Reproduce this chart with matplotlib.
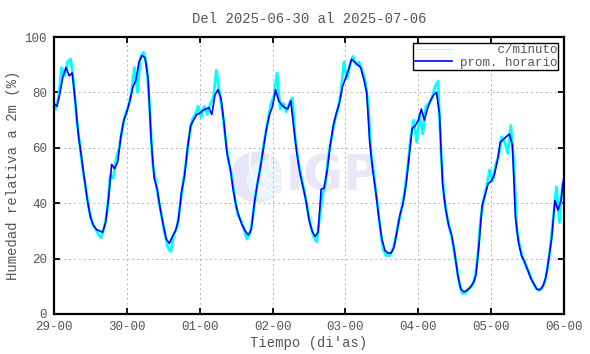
import matplotlib
matplotlib.use("Agg")
import matplotlib.pyplot as plt
import numpy as np
from matplotlib.patches import Circle, Arc

plt.rcParams['font.family'] = ['Liberation Mono', 'DejaVu Sans Mono']

# promedio horario (valor al inicio de cada hora), dia por dia
d29 = [76, 75, 80, 86, 89, 86, 87, 77, 65, 57, 49, 41, 35, 32, 30.5, 30,
       29.5, 33, 42, 54, 52.5, 55, 64, 70]
d30 = [73, 77, 82, 84.5, 91, 93.3, 92.5, 85, 63, 49, 45, 38, 32, 27, 25.5, 28,
       30, 34, 44, 50, 60, 68, 70, 72]
d01 = [72.5, 73.5, 74, 74.5, 72, 79, 81, 78, 69, 58, 53, 45, 39, 35, 32, 30,
       28.5, 30.5, 40, 47, 53, 60, 67, 72]
d02 = [75, 81, 77, 75.5, 74.5, 74, 77, 67, 58, 51, 46, 41, 34, 30, 28, 29.5,
       45, 45.5, 52, 61, 68, 72.5, 76, 82]
d03 = [85, 88, 92, 91, 90, 89, 85, 80, 62, 52, 44, 35, 27, 23, 22, 22,
       24, 30, 36, 40, 47, 57, 67, 68]
d04 = [70, 74, 70, 74, 77, 79, 80, 72, 47, 38, 32, 28.5, 22, 14, 9, 8,
       8.5, 9.5, 11, 14, 25, 39, 43, 47]
d05 = [48, 50, 55, 62, 63, 64, 65, 61, 35, 26, 21, 19, 16, 13, 11, 9,
       8.7, 10, 13, 20, 28, 41, 37.5, 41, 50]

# datos por minuto (resumidos a la media hora)
c29 = [74, 78, 89, 86, 91, 92, 83, 70, 61, 52, 45, 38, 33, 31, 29, 27.5,
       31, 37, 50, 49, 56, 60, 67, 72]
c30 = [75, 80, 89, 80, 93, 94.5, 90, 75, 54, 48, 41, 35, 29, 24, 22.5, 29,
       31, 39, 47, 55, 64, 70, 72, 75]
c01 = [71, 75, 72, 76, 78, 88, 80, 73, 63, 55, 50, 42, 36, 34, 31, 27,
       29, 35, 44, 50, 57, 64, 70, 76]
c02 = [79, 87, 74, 76, 73, 76, 78, 63, 55, 49, 44, 38, 32, 28, 26, 35,
       43, 48, 58, 64, 70, 74, 80, 91]
c03 = [85, 90, 93, 90, 91, 88, 84, 76, 57, 49, 40, 30, 23, 21, 21, 23,
       27, 33, 38, 44, 53, 64, 70, 62]
c04 = [72, 65, 75, 76, 78, 82, 84, 58, 42, 35, 30, 25, 18, 11, 7.5, 7.5,
       9, 10, 12, 20, 34, 41, 46, 52]
c05 = [48, 54, 57, 64, 62, 58, 68, 54, 30, 24, 20, 17, 15, 12, 10, 8.5,
       9, 11, 16, 24, 35, 46, 33, 47]

dias = ['29-00', '30-00', '01-00', '02-00', '03-00', '04-00', '05-00', '06-00']

horario = np.array(d29 + d30 + d01 + d02 + d03 + d04 + d05)
minuto = np.array(c29 + c30 + c01 + c02 + c03 + c04 + c05)
t_h = np.arange(len(horario))
t_m = np.arange(len(minuto)) + 0.5

fig = plt.figure(figsize=(5.9, 3.54), dpi=100)
fig.patch.set_facecolor('white')

# marca de agua IGP
wm = fig.add_axes([232 / 590, 1 - 202 / 354, 50 / 590, 50 / 354], zorder=0)
wm.set_xlim(-1, 1)
wm.set_ylim(-1, 1)
wm.axis('off')
wm.add_patch(Circle((0, 0), 1, color='#e6e6f6'))
wm.add_patch(Circle((0.35, -0.1), 0.75, color='#ebf3fd'))
for r in (0.5, 0.9, 1.3):
    wm.add_patch(Arc((1.0, 0.6), r * 2, r * 2, color='white', lw=1.2))
fig.text(286 / 590, 1 - 176 / 354, 'IGP', fontsize=35, fontweight='bold',
         color='#e7e7f6', family='DejaVu Sans', va='center', zorder=0.5)

ax = fig.add_axes([54 / 590, 40 / 354, 510 / 590, 277 / 354], zorder=1)
ax.patch.set_alpha(0)

ax.plot(t_m, minuto, color='#00ffff', lw=2.0, label='     c/minuto')
ax.plot(t_h, horario, color='#0000ff', lw=1.2, label='prom. horario')

ax.set_xlim(0, 168)
ax.set_ylim(0, 100)
ax.set_xticks(np.arange(0, 169, 24))
ax.set_xticklabels(dias)
ax.set_yticks(np.arange(0, 101, 20))

txt = '#555555'
ax.tick_params(direction='in', length=4, width=1.3, top=True, right=True,
               labelsize=9, labelcolor=txt, pad=5)
for s in ax.spines.values():
    s.set_linewidth(1.6)
ax.grid(True, color='#b4b4b4', lw=0.7, ls=(0, (2, 3)))

ax.set_title('Del 2025-06-30 al 2025-07-06', fontsize=10, color=txt, pad=10)
ax.set_xlabel("Tiempo (di'as)", fontsize=10, color=txt, labelpad=2)
ax.set_ylabel('Humedad relativa a 2m (%)', fontsize=10, color=txt, labelpad=3)

leg = ax.legend(loc='upper right', fontsize=9, fancybox=False, framealpha=1,
                edgecolor='black', borderpad=0.1, labelspacing=0.05,
                handlelength=3.0, handletextpad=0.6, borderaxespad=0.45)
leg.get_frame().set_linewidth(1.0)
leg.get_lines()[0].set_linewidth(0.8)
leg.get_lines()[0].set_color('#aaffff')
for t in leg.get_texts():
    t.set_color(txt)

fig.savefig('out.png', dpi=100)
